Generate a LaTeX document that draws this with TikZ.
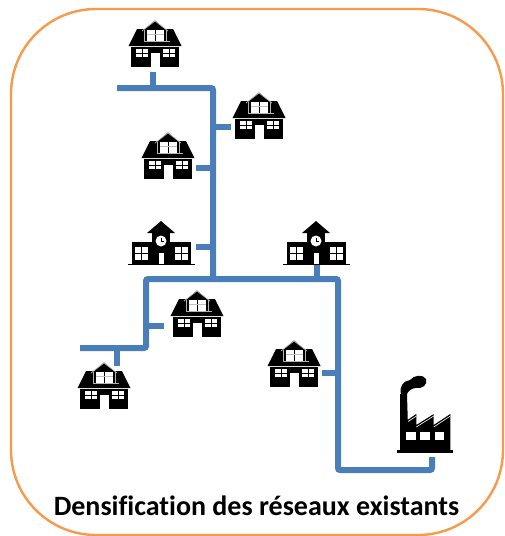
\documentclass[tikz,border=0pt]{standalone}
\usepackage{fontspec}
\setmainfont{Carlito}[Ligatures=NoCommon]
\usepackage{xcolor}
\definecolor{pipeblue}{HTML}{4A7EBB}
\definecolor{frameorange}{HTML}{F79A4C}
\tikzset{pipe/.style = {draw=pipeblue, line width=6pt, rounded corners=2pt},
  bldg/.style = {inner sep=0pt, outer sep=0pt, minimum width=56pt},
  blk/.style = {fill=black, draw=none},
  wht/.style = {fill=white, draw=none},
  house/.pic = {
    \node[bldg, minimum height=48pt, anchor=south] (-box) at (0,5) {};
    \fill[blk] (-26.5,-21) -- (-18,-38) -- (-10,-38) -- (0,-46.5) -- (10,-38) -- (18,-38) -- (26.5,-21) -- cycle;
    \draw[gray!60, line width=0.7pt] (-13,-36) -- (0,-46) -- (13,-36);
    \draw[gray!60, line width=0.8pt] (-11,-37) -- (-11,-25.5) -- (15,-25.5) (11,-37) -- (11,-26);
    \fill[wht] (-8.5,-37.5) rectangle (9,-26.5);
    \draw[black, line width=0.7pt] (0.5,-37.5) -- (0.5,-26.5);
    \draw[gray!50, line width=0.5pt] (-8.5,-33) -- (9,-33);
    \fill[blk] (-24,-20) rectangle (24,0);
    \fill[wht] (-4,-14.5) rectangle (5,0);
    \fill[wht] (-19,-18) rectangle (-7,-10);
    \fill[wht] (8,-18) rectangle (20,-10);
    \draw[black, line width=0.7pt] (-13,-18) -- (-13,-10) (-19,-14) -- (-7,-14);
    \draw[black, line width=0.7pt] (14,-18) -- (14,-10) (8,-14) -- (20,-14);
  },
  school/.pic = {
    \node[bldg, minimum width=70pt, minimum height=50pt, anchor=south] (-box) at (0,0) {};
    \fill[blk] (-33,-1.5) rectangle (34,0);
    \fill[blk] (-29,-23) rectangle (30,-1);
    \fill[blk] (-9,-33) rectangle (9,-1);
    \fill[blk] (-14,-32) -- (0,-44) -- (14,-32) -- cycle;
    \fill[wht] (0,-24) circle (5.5pt);
    \draw[black, line width=0.7pt] (0,-27.5) -- (0,-24) -- (2.5,-24);
    \fill[wht] (-2.5,-12) rectangle (2.5,-1.5);
    \foreach \wx in {-26,-19,14,21} {
      \fill[wht] (\wx,-18) rectangle ++(6,6);
      \fill[wht] (\wx,-11) rectangle ++(6,6);
    }
  },
  factory/.pic = {
    \node[bldg, minimum height=76pt, anchor=south] (-box) at (0,4) {};
    \fill[blk] (-28,-3.5) rectangle (28,0);
    \fill[blk] (-25,-3) -- (-25,-28) -- (-8.7,-39) -- (-8.7,-28) -- (8.7,-39) -- (8.7,-28) -- (25.3,-39) -- (25.3,-3) -- cycle;
    \draw[white, line width=0.6pt] (-25,-26) -- (-8.7,-37) (-8.7,-26) -- (8.7,-37) (8.7,-26) -- (25.3,-37);
    \fill[blk] (-25,-25) -- (-25,-59) -- (-18,-59) -- (-17,-25) -- cycle;
    \fill[blk] (-24,-59) .. controls (-26,-66) and (-22,-72) .. (-15,-73)
      .. controls (-11,-78) and (-2,-79) .. (1,-74)
      .. controls (3,-68) and (-3,-64) .. (-9,-65)
      .. controls (-13,-65) and (-17,-62) .. (-18,-59) -- cycle;
    \fill[wht] (-18.7,-21) rectangle (-9.3,-13.3);
    \fill[wht] (-4.7,-21) rectangle (4.7,-13.3);
    \fill[wht] (9.7,-21) rectangle (18.7,-13.3);
  }}

\begin{document}
\begin{tikzpicture}[x=1pt,y=-1pt]
  \useasboundingbox (0,0) rectangle (504,536);
  \draw[frameorange, line width=2.4pt, rounded corners=85pt] (11,9) rectangle (503,535);
  % buildings
  \pic (HA) at (155,67) {house};
  \pic (HB) at (259,139) {house};
  \pic (HC) at (168,179) {house};
  \pic (HD) at (197,337) {house};
  \pic (HE) at (104,409) {house};
  \pic (HF) at (294,387) {house};
  \pic (SA) at (161,265) {school};
  \pic (SB) at (316,265) {school};
  \pic (FA) at (425,453) {factory};
  % junctions of the network
  \coordinate (endA) at (117,88);
  \coordinate (JA) at (153,88);
  \coordinate (cornerA) at (213,88);
  \coordinate (JB) at (213,127);
  \coordinate (JC) at (213,168);
  \coordinate (JS) at (213,247);
  \coordinate (JM) at (213,279);
  \coordinate (cornerB) at (146,279);
  \coordinate (JD) at (146,326);
  \coordinate (tapD) at (164,326);
  \coordinate (cornerC) at (146,348);
  \coordinate (endB) at (80,348);
  \coordinate (JE) at (117,348);
  \coordinate (JT) at (317,279);
  \coordinate (cornerD) at (338,279);
  \coordinate (JF) at (338,373);
  \coordinate (cornerE) at (338,470);
  \coordinate (cornerF) at (432,470);
  % mains
  \draw[pipe] (endA) -- (JA) -- (cornerA) -- (JB) -- (JC) -- (JS) -- (JM);
  \draw[pipe] (endB) -- (JE) -- (cornerC) -- (JD) -- (cornerB) -- (JM) -- (JT) -- (cornerD) -- (JF) -- (cornerE) -- (cornerF) -- (FA-box.south -| cornerF);
  % branches
  \draw[pipe] (HA-box.south -| JA) -- (JA);
  \draw[pipe] (HB-box.west |- JB) -- (JB);
  \draw[pipe] (HC-box.east |- JC) -- (JC);
  \draw[pipe] (SA-box.east |- JS) -- (JS);
  \draw[pipe] (SB-box.south -| JT) -- (JT);
  \draw[pipe] (tapD) -- (JD);
  \draw[pipe] (HE-box.north -| JE) -- (JE);
  \draw[pipe] (HF-box.east |- JF) -- (JF);
  \node[font=\bfseries\fontsize{28}{32}\selectfont, anchor=base] (title) at (256.5,515) {Densification des réseaux existants};
\end{tikzpicture}
\end{document}
